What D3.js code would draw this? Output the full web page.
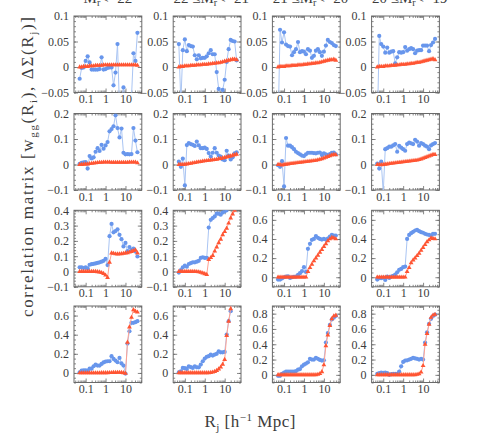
<!DOCTYPE html>
<html>
<head>
<meta charset="utf-8">
<title>correlation matrix</title>
<script src="https://cdnjs.cloudflare.com/ajax/libs/d3/7.8.5/d3.min.js"></script>
<style>
  body { margin: 0; background: #fff; }
  text { font-family: "Liberation Serif", "DejaVu Serif", serif; fill: #3c3c3c; }
</style>
</head>
<body>
<div id="chart"></div>
<script>
// radial bins R_j [h^-1 Mpc]
var binR = [0.05, 0.063, 0.079, 0.1, 0.126, 0.158, 0.2, 0.251, 0.316, 0.398,
  0.501, 0.631, 0.794, 1, 1.26, 1.58, 2, 2.51, 3.16, 3.98,
  5.01, 6.31, 7.94, 10, 12.6, 15.8, 20, 25.1, 31.6, 39.8];

var titlePrefix = ['', '\u221222 \u2264', '\u221221 \u2264', '\u221220 \u2264'];
var titleSuffix = ['<\u221222', '<\u221221', '<\u221220', '<\u221219'];

// blue: w_gg rows, one list per magnitude bin (columns)
var wggRow1 = [
  [-0.023, -0.002, -0.001, 0.012, 0.021, 0.009, -0.005, -0.005, -0.005, -0.005, -0.004, 0.019, -0.005, -0.004, -0.002, -0.001, -0.001, -0.036, -0.011, 0.045, -0.080, -0.065, -0.040, -0.070, -0.090, -0.080, -0.060, 0.027, 0.012, 0.067],
  [0.045, -0.070, 0.033, 0.054, 0.031, 0.043, 0.041, 0.040, 0.023, 0.015, 0.023, 0.017, 0.018, 0.018, 0.021, 0.027, 0.033, 0.025, 0.025, -0.010, -0.043, -0.070, -0.045, -0.025, 0.010, 0.035, 0.053, 0.051, 0.050, 0.013],
  [-0.120, 0.073, 0.048, 0.068, 0.044, 0.041, 0.040, 0.023, 0.029, 0.035, 0.049, 0.029, 0.031, 0.030, 0.025, 0.035, 0.032, 0.018, 0.022, 0.032, 0.035, 0.029, 0.022, 0.030, 0.042, 0.053, 0.049, 0.047, 0.043, 0.041],
  [-0.120, 0.061, 0.045, 0.040, 0.028, 0.038, 0.028, 0.030, 0.031, 0.007, 0.019, 0.029, 0.028, 0.029, 0.039, 0.032, 0.035, 0.037, 0.035, 0.027, 0.032, 0.033, 0.033, 0.042, 0.042, 0.042, 0.031, 0.043, 0.048, 0.055]
];
var wggRow2 = [
  [0.003, 0.006, 0.008, 0.009, -0.016, 0.033, 0.024, 0.028, 0.050, 0.064, 0.053, 0.077, 0.062, 0.075, 0.088, 0.130, 0.139, 0.150, 0.193, 0.143, 0.106, 0.141, 0.046, 0.040, 0.041, 0.040, 0.041, 0.143, 0.094, 0.048],
  [0.011, -0.009, 0.023, -0.082, 0.076, 0.084, 0.080, 0.077, 0.073, 0.090, 0.075, 0.064, 0.064, 0.066, 0.061, 0.045, 0.031, 0.046, 0.064, 0.046, 0.035, 0.031, 0.020, 0.017, 0.054, 0.035, 0.020, 0.028, 0.044, 0.048],
  [-0.003, -0.009, 0.013, -0.086, 0.104, 0.074, 0.074, 0.068, 0.060, 0.050, 0.045, 0.040, 0.035, 0.033, 0.040, 0.046, 0.046, 0.046, 0.045, 0.044, 0.046, 0.047, 0.037, 0.044, 0.040, 0.037, 0.041, 0.046, 0.047, 0.040],
  [0.004, -0.016, 0.011, -0.110, 0.060, 0.064, 0.070, 0.070, 0.075, 0.080, 0.050, 0.073, 0.066, 0.060, 0.054, 0.080, 0.086, 0.083, 0.080, 0.097, 0.090, 0.074, 0.084, 0.080, 0.074, 0.070, 0.060, 0.075, 0.080, 0.084]
];
var wggRow3 = [
  [0.027, 0.027, 0.023, 0.027, 0.021, 0.044, 0.048, 0.050, 0.053, 0.056, 0.060, 0.064, 0.070, 0.082, 0.042, 0.231, 0.311, 0.256, 0.264, 0.276, 0.240, 0.211, 0.164, 0.187, 0.133, 0.160, 0.142, 0.150, 0.130, 0.098],
  [-0.007, 0.009, 0.027, 0.038, 0.031, 0.049, 0.055, 0.060, 0.060, 0.064, 0.070, 0.089, 0.093, 0.089, 0.090, 0.287, 0.338, 0.349, 0.360, 0.378, 0.378, 0.371, 0.385, 0.393, 0.400, 0.430, 0.460, 0.500, 0.520, 0.540],
  [-0.024, -0.024, -0.012, 0.000, 0.007, 0.010, -0.007, 0.000, 0.005, 0.007, 0.024, 0.042, 0.063, 0.105, 0.056, 0.297, 0.349, 0.391, 0.401, 0.430, 0.412, 0.401, 0.394, 0.401, 0.394, 0.405, 0.426, 0.443, 0.436, 0.436],
  [-0.024, -0.010, -0.010, -0.004, -0.028, 0.007, -0.007, 0.007, 0.015, 0.028, 0.052, 0.077, 0.087, 0.105, 0.112, 0.401, 0.443, 0.461, 0.475, 0.489, 0.496, 0.482, 0.471, 0.465, 0.454, 0.447, 0.443, 0.436, 0.454, 0.454]
];
var wggRow4 = [
  [0.007, 0.024, 0.028, 0.028, 0.024, 0.045, 0.045, 0.070, 0.087, 0.077, 0.077, 0.094, 0.110, 0.119, 0.122, 0.122, 0.175, 0.147, 0.129, 0.112, 0.157, 0.100, 0.077, -0.007, 0.307, 0.436, 0.524, 0.524, 0.531, 0.541],
  [0.007, 0.017, 0.052, 0.050, 0.042, 0.070, 0.060, 0.052, 0.070, 0.059, 0.059, 0.087, 0.122, 0.150, 0.168, 0.175, 0.192, 0.182, 0.192, 0.200, 0.227, 0.216, 0.216, 0.220, 0.401, 0.541, 0.646, 0.750, 0.850, 0.900],
  [-0.013, -0.013, 0.013, 0.030, 0.044, 0.044, 0.044, 0.044, 0.044, 0.050, 0.067, 0.076, 0.111, 0.133, 0.147, 0.164, 0.209, 0.200, 0.200, 0.222, 0.209, 0.195, 0.187, 0.190, 0.422, 0.547, 0.653, 0.724, 0.747, 0.769],
  [0.013, 0.022, 0.031, 0.025, 0.031, 0.022, 0.000, 0.009, 0.013, 0.013, 0.013, 0.044, 0.111, 0.169, 0.187, 0.190, 0.200, 0.209, 0.222, 0.215, 0.209, 0.200, 0.209, 0.200, 0.422, 0.556, 0.667, 0.733, 0.769, 0.787]
];

// red: delta sigma rows
var dsRow1 = [
  [0.000, 0.000, 0.001, 0.001, 0.001, 0.002, 0.002, 0.002, 0.003, 0.003, 0.003, 0.003, 0.004, 0.004, 0.004, 0.004, 0.004, 0.004, 0.004, 0.004, 0.004, 0.004, 0.004, 0.004, 0.004, 0.004, 0.004, 0.004, 0.004, 0.003],
  [0.000, 0.001, 0.001, 0.002, 0.002, 0.002, 0.003, 0.003, 0.003, 0.004, 0.004, 0.004, 0.005, 0.005, 0.005, 0.006, 0.006, 0.007, 0.007, 0.008, 0.008, 0.009, 0.010, 0.011, 0.012, 0.013, 0.014, 0.015, 0.015, 0.014],
  [0.000, 0.001, 0.001, 0.001, 0.002, 0.002, 0.002, 0.003, 0.003, 0.003, 0.004, 0.004, 0.004, 0.005, 0.005, 0.006, 0.006, 0.007, 0.007, 0.008, 0.008, 0.009, 0.010, 0.011, 0.012, 0.013, 0.014, 0.014, 0.015, 0.013],
  [0.000, 0.001, 0.001, 0.001, 0.002, 0.002, 0.002, 0.003, 0.003, 0.003, 0.004, 0.004, 0.005, 0.005, 0.005, 0.006, 0.006, 0.007, 0.007, 0.008, 0.009, 0.009, 0.010, 0.011, 0.012, 0.013, 0.014, 0.015, 0.016, 0.014]
];
var dsRow2 = [
  [0.000, 0.000, 0.001, 0.002, 0.002, 0.003, 0.004, 0.005, 0.006, 0.007, 0.008, 0.008, 0.009, 0.009, 0.009, 0.009, 0.008, 0.008, 0.008, 0.008, 0.008, 0.008, 0.008, 0.008, 0.008, 0.009, 0.009, 0.009, 0.009, 0.006],
  [0.000, 0.000, 0.000, 0.001, 0.002, 0.003, 0.004, 0.006, 0.007, 0.009, 0.010, 0.011, 0.013, 0.014, 0.015, 0.016, 0.017, 0.018, 0.019, 0.020, 0.022, 0.023, 0.025, 0.027, 0.029, 0.031, 0.033, 0.036, 0.038, 0.040],
  [0.000, 0.000, -0.002, 0.000, 0.001, 0.002, 0.003, 0.004, 0.005, 0.006, 0.007, 0.008, 0.009, 0.010, 0.011, 0.012, 0.013, 0.014, 0.015, 0.016, 0.018, 0.020, 0.022, 0.025, 0.028, 0.031, 0.034, 0.037, 0.039, 0.038],
  [0.000, 0.000, -0.001, 0.000, 0.001, 0.002, 0.003, 0.004, 0.005, 0.006, 0.007, 0.008, 0.009, 0.010, 0.011, 0.012, 0.013, 0.014, 0.015, 0.016, 0.017, 0.019, 0.021, 0.024, 0.027, 0.030, 0.033, 0.036, 0.039, 0.039]
];
var dsRow3 = [
  [0.000, 0.000, 0.000, 0.000, 0.000, 0.000, 0.000, 0.000, 0.000, -0.002, -0.004, -0.008, -0.014, -0.024, -0.040, 0.060, 0.120, 0.118, 0.115, 0.114, 0.115, 0.116, 0.118, 0.120, 0.122, 0.126, 0.130, 0.136, 0.140, 0.120],
  [0.000, 0.000, 0.000, 0.000, 0.000, 0.000, 0.000, 0.000, 0.000, -0.001, -0.003, -0.006, -0.010, -0.015, -0.020, 0.078, 0.090, 0.104, 0.133, 0.160, 0.187, 0.210, 0.240, 0.260, 0.282, 0.316, 0.349, 0.375, 0.400, 0.430],
  [0.000, 0.000, 0.000, 0.000, 0.000, 0.000, 0.000, 0.000, 0.000, 0.000, 0.000, 0.000, 0.000, 0.000, 0.000, 0.060, 0.100, 0.135, 0.170, 0.200, 0.230, 0.260, 0.290, 0.320, 0.350, 0.380, 0.400, 0.415, 0.410, 0.400],
  [0.000, 0.000, 0.000, 0.000, 0.000, 0.000, 0.000, 0.000, 0.000, 0.000, 0.000, 0.000, 0.000, 0.000, 0.000, 0.060, 0.100, 0.150, 0.180, 0.200, 0.225, 0.250, 0.280, 0.310, 0.340, 0.370, 0.390, 0.410, 0.405, 0.400]
];
var dsRow4 = [
  [0.000, 0.000, 0.000, 0.000, 0.000, 0.000, 0.000, 0.000, 0.000, 0.000, 0.000, 0.001, 0.001, 0.002, 0.002, 0.003, 0.003, 0.004, 0.004, 0.005, 0.005, 0.004, 0.002, -0.005, 0.321, 0.480, 0.580, 0.660, 0.645, 0.635],
  [0.002, 0.002, 0.002, 0.002, 0.002, 0.002, 0.002, 0.002, 0.002, 0.002, 0.002, 0.002, 0.002, 0.002, 0.002, 0.002, 0.004, 0.008, 0.015, 0.025, 0.040, 0.060, 0.090, 0.140, 0.390, 0.540, 0.670, 0.780, 0.850, 0.900],
  [0.000, 0.000, 0.000, 0.000, 0.000, 0.000, 0.000, 0.000, 0.000, 0.000, 0.000, 0.000, 0.000, 0.000, 0.000, 0.000, 0.000, 0.000, 0.000, 0.000, 0.005, 0.015, 0.040, 0.130, 0.380, 0.520, 0.644, 0.733, 0.769, 0.778],
  [0.000, 0.000, 0.000, 0.000, 0.000, 0.000, 0.000, 0.000, 0.000, 0.000, 0.000, 0.000, 0.000, 0.000, 0.000, 0.000, 0.000, 0.000, 0.000, 0.000, 0.005, 0.012, 0.035, 0.120, 0.400, 0.540, 0.660, 0.750, 0.780, 0.790]
];

// y tick sets and which panel uses which
var ticksA = [-0.05, 0, 0.05, 0.1];
var ticksB = [-0.1, 0, 0.1, 0.2];
var ticksC = [-0.1, 0, 0.1, 0.2, 0.3, 0.4];
var ticksD = [0, 0.2, 0.4, 0.6];
var ticksE = [0, 0.2, 0.4, 0.6, 0.8];
var xTicks = [0.1, 1, 10];

var wggRows = [wggRow1, wggRow2, wggRow3, wggRow4];
var dsRows = [dsRow1, dsRow2, dsRow3, dsRow4];

// layout
var width = 479, height = 434;
var colX = [74, 173.2, 272.4, 371.6];
var rowY = [16, 113.5, 210.3, 306];
var panelW = 67.8, panelH = 76.5;
var axisColor = '#6a6a6a';
var blue = '#6896ec', blueLine = '#aac5f3';
var red = '#ff5533', redLine = '#ffa090';

function panelY(r, c) {
  if (r === 0) return { domain: [-0.05, 0.1], ticks: ticksA, minor: 0.01 };
  if (r === 1) return { domain: [-0.1, 0.2], ticks: ticksB, minor: 0.02 };
  if (r === 2 && c < 2) return { domain: [-0.1, 0.4], ticks: ticksC, minor: 0.02 };
  if (r === 2 || c < 2) return { domain: [-0.1, 0.7], ticks: ticksD, minor: 0.05 };
  return { domain: [-0.1, 0.9], ticks: ticksE, minor: 0.05 };
}

function fmt(v) {
  if (Math.abs(v) < 1e-9) return '0';
  return String(+v.toFixed(3)).replace('-', '\u2212');
}

var svg = d3.select('#chart')
  .append('svg')
  .attr('width', width)
  .attr('height', height);

var x = d3.scaleLog().domain([0.026, 66]).range([0, panelW]);
var xMinor = [];
[0.01, 0.1, 1, 10].forEach(function (dec) {
  for (var k = 2; k <= 9; k++) {
    var v = dec * k;
    if (v > 0.026 && v < 66) xMinor.push(v);
  }
});

function styleAxis(g) {
  g.select('.domain').remove();
  g.selectAll('line').attr('stroke', axisColor).attr('stroke-width', 0.8);
  g.selectAll('text')
    .attr('font-family', '"Liberation Serif", serif')
    .attr('font-size', 12)
    .attr('fill', '#3c3c3c');
  g.attr('font-family', null).attr('font-size', null);
}

for (var r = 0; r < 4; r++) {
  for (var c = 0; c < 4; c++) {
    var spec = panelY(r, c);
    var y = d3.scaleLinear().domain(spec.domain).range([panelH, 0]);
    var yMinor = d3.range(Math.ceil(spec.domain[0] / spec.minor - 1e-6), Math.floor(spec.domain[1] / spec.minor + 1e-6) + 1)
      .map(function (k) { return +(k * spec.minor).toFixed(4); });

    var g = svg.append('g')
      .attr('class', 'panel')
      .attr('transform', 'translate(' + colX[c] + ',' + rowY[r] + ')');

    var clipId = 'clip-' + r + '-' + c;
    g.append('clipPath').attr('id', clipId)
      .append('rect').attr('width', panelW).attr('height', panelH);

    // minor ticks
    g.append('g').attr('transform', 'translate(0,' + panelH + ')')
      .call(d3.axisBottom(x).tickValues(xMinor).tickSize(-2).tickFormat(''))
      .call(styleAxis);
    g.append('g')
      .call(d3.axisTop(x).tickValues(xMinor).tickSize(-2).tickFormat(''))
      .call(styleAxis);
    g.append('g')
      .call(d3.axisLeft(y).tickValues(yMinor).tickSize(-2).tickFormat(''))
      .call(styleAxis);
    g.append('g').attr('transform', 'translate(' + panelW + ',0)')
      .call(d3.axisRight(y).tickValues(yMinor).tickSize(-2).tickFormat(''))
      .call(styleAxis);

    // major ticks
    g.append('g').attr('transform', 'translate(0,' + panelH + ')')
      .call(d3.axisBottom(x).tickValues(xTicks).tickSize(-4).tickPadding(2).tickFormat(fmt))
      .call(styleAxis);
    g.append('g')
      .call(d3.axisTop(x).tickValues(xTicks).tickSize(-4).tickFormat(''))
      .call(styleAxis);
    g.append('g')
      .call(d3.axisLeft(y).tickValues(spec.ticks).tickSize(-4).tickPadding(5).tickFormat(fmt))
      .call(styleAxis);
    g.append('g').attr('transform', 'translate(' + panelW + ',0)')
      .call(d3.axisRight(y).tickValues(spec.ticks).tickSize(-4).tickFormat(''))
      .call(styleAxis);

    g.append('rect')
      .attr('width', panelW)
      .attr('height', panelH)
      .attr('fill', 'none')
      .attr('stroke', axisColor)
      .attr('stroke-width', 1);

    var line = d3.line()
      .x(function (d, i) { return x(binR[i]); })
      .y(function (d) { return y(d); });

    var plot = g.append('g').attr('clip-path', 'url(#' + clipId + ')');
    var wgg = wggRows[r][c];
    var ds = dsRows[r][c];

    plot.append('path').datum(wgg)
      .attr('d', line).attr('fill', 'none')
      .attr('stroke', blueLine).attr('stroke-width', 1);
    plot.selectAll('circle').data(wgg).enter().append('circle')
      .attr('cx', function (d, i) { return x(binR[i]); })
      .attr('cy', function (d) { return y(d); })
      .attr('r', 2.1)
      .attr('fill', blue);

    plot.append('path').datum(ds)
      .attr('d', line).attr('fill', 'none')
      .attr('stroke', redLine).attr('stroke-width', 1);
    plot.selectAll('path.tri').data(ds).enter().append('path')
      .attr('class', 'tri')
      .attr('d', d3.symbol().type(d3.symbolTriangle).size(10))
      .attr('transform', function (d, i) { return 'translate(' + x(binR[i]) + ',' + y(d) + ')'; })
      .attr('fill', red);
  }
}

// column titles (cut at the top edge as in the original)
for (var k = 0; k < 4; k++) {
  var t = svg.append('text')
    .attr('x', colX[k] + panelW / 2)
    .attr('y', 3)
    .attr('text-anchor', 'middle')
    .attr('font-size', 15);
  t.append('tspan').text(titlePrefix[k] + 'M');
  t.append('tspan').attr('dy', 3).attr('font-size', 10).text('r');
  t.append('tspan').attr('dy', -3).text(titleSuffix[k]);
}

// y label
var yl = svg.append('text')
  .attr('transform', 'translate(33,167) rotate(-90)')
  .attr('text-anchor', 'middle')
  .attr('font-size', 17)
  .attr('textLength', 300)
  .attr('lengthAdjust', 'spacing');
yl.append('tspan').text('correlation matrix [w');
yl.append('tspan').attr('dy', 4).attr('font-size', 11).text('gg');
yl.append('tspan').attr('dy', -4).text('(R');
yl.append('tspan').attr('dy', 4).attr('font-size', 11).text('i');
yl.append('tspan').attr('dy', -4).text('), \u0394\u03a3(R');
yl.append('tspan').attr('dy', 4).attr('font-size', 11).text('j');
yl.append('tspan').attr('dy', -4).text(')]');

// x label
var xl = svg.append('text')
  .attr('x', 250)
  .attr('y', 427)
  .attr('text-anchor', 'middle')
  .attr('font-size', 17)
  .attr('textLength', 91)
  .attr('lengthAdjust', 'spacing');
xl.append('tspan').text('R');
xl.append('tspan').attr('dy', 4).attr('font-size', 11).text('j');
xl.append('tspan').attr('dy', -4).text(' [h');
xl.append('tspan').attr('dy', -6).attr('font-size', 11).text('\u22121');
xl.append('tspan').attr('dy', 6).text(' Mpc]');
</script>
</body>
</html>
